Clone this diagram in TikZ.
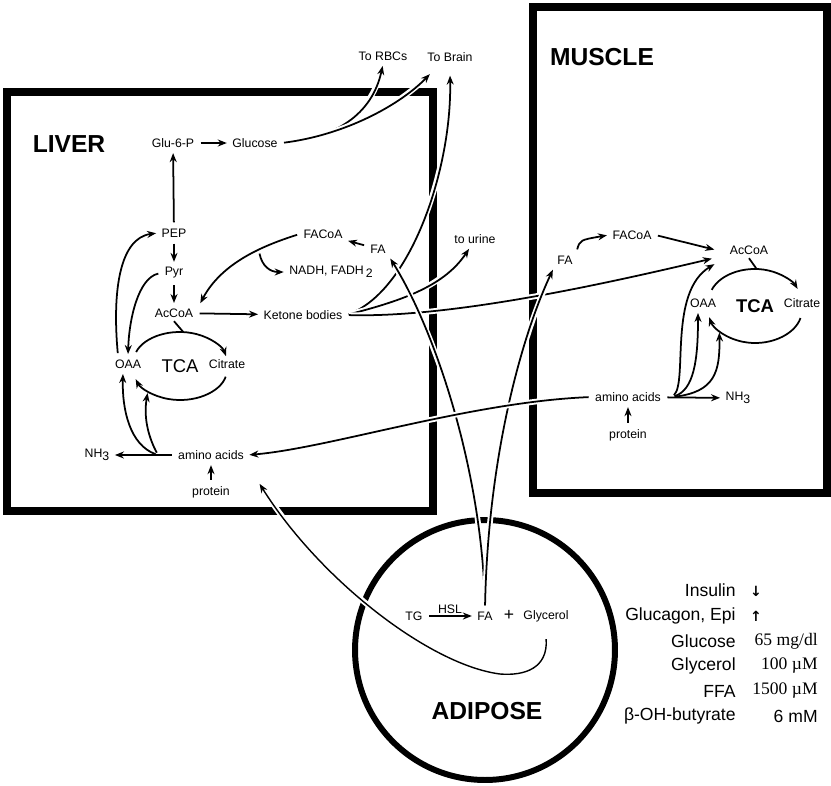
\documentclass[tikz,border=0pt]{standalone}
\usepackage{fontspec}
\setmainfont{Liberation Sans}
\newfontfamily\timesvals{Liberation Serif}
\newfontfamily\legendsym{DejaVu Sans}
\usepackage{tikz}
\usetikzlibrary{
    arrows.meta,
    positioning
}
\tikzset{
    % Heavy black outline of an organ
    organ box/.style={
        draw=black,
        line width=4.5pt,
    },
    % Organ names
    organ name/.style={
        font=\fontsize{14}{16}\selectfont\bfseries,
        inner sep=0pt,
    },
    % Metabolites
    metab/.style={
        font=\fontsize{7}{8}\selectfont,
        inner sep=2pt,
    },
    % Name inside the TCA ring
    cycle name/.style={
        font=\fontsize{10.5}{12}\selectfont,
        inner sep=0pt,
    },
    % Arrow
    arrow/.style={
        -{Stealth[length=1.8mm, width=1.4mm]},
        line width=1pt,
        shorten >=1pt,
        shorten <=1.5pt,
    },
    % Line without tip
    link/.style={
        line width=1pt,
    },
    % Arrow with a white halo where it crosses a frame
    arrow cross/.style={
        arrow,
        preaction={draw=white, line width=3.2pt, -},
    },
    % Legend text
    legend label/.style={
        font=\fontsize{10}{12}\selectfont,
        anchor=east,
        inner sep=0pt,
    },
}

\begin{document}
\begin{tikzpicture}[x=0.02cm, y=-0.02cm, node distance=0.8cm]
    \useasboundingbox (0,0) rectangle (831,785);

    % organs
    \draw[organ box] (7,92) rectangle (433,511);
    \draw[organ box] (533,7) rectangle (827,493);
    \draw[organ box, line width=3.4pt] (485,650) circle[radius=2.6cm];
    \node (liver) [organ name] at (69,144) {LIVER};
    \node (muscle) [organ name] at (602,57) {MUSCLE};
    \node (adipose) [organ name] at (487,711) {ADIPOSE};

    % liver
    \node (glu6p) [metab] at (173,143) {Glu-6-P};
    \node (glucose) [metab, right of=glu6p, xshift=0.84cm] {Glucose};
    \node (pep) [metab] at (174,233) {PEP};
    \node (pyr) [metab, below of=pep] {Pyr};
    \node (accoaL) [metab, below of=pyr] {AcCoA};
    \node (facoaL) [metab] at (323,234) {FACoA};
    \node (faL) [metab] at (378,249) {FA};
    \node (nadh) [metab] at (331,272) {NADH, FADH\,\raisebox{-.5ex}{2}};
    \node (ketone) [metab] at (303,315) {Ketone bodies};
    \node (tcaL) [cycle name] at (180,366) {TCA};
    \node (oaaL) [metab] at (128,364) {OAA};
    \node (citL) [metab] at (227,364) {Citrate};
    \node (aminoL) [metab] at (211,455) {amino acids};
    \node (protL) [metab, below of=aminoL, yshift=0.06cm] {protein};
    \node (nh3L) [metab] at (97,455) {NH\raisebox{-.5ex}{3}};

    % outside
    \node (rbc) [metab] at (383,56) {To RBCs};
    \node (brain) [metab] at (450,57) {To Brain};
    \node (urine) [metab] at (475,239) {to urine};

    % muscle
    \node (faM) [metab] at (565,260) {FA};
    \node (facoaM) [metab] at (632,235) {FACoA};
    \node (accoaM) [metab] at (749,250) {AcCoA};
    \node (tcaM) [cycle name, font=\fontsize{10.5}{12}\selectfont\bfseries] at (755,306) {TCA};
    \node (oaaM) [metab] at (703,303) {OAA};
    \node (citM) [metab] at (802,303) {Citrate};
    \node (aminoM) [metab] at (628,397) {amino acids};
    \node (protM) [metab, below of=aminoM, yshift=0.04cm] {protein};
    \node (nh3M) [metab] at (738,398) {NH\raisebox{-.5ex}{3}};

    % adipose
    \node (tg) [metab] at (414,616) {TG};
    \node (faA) [metab] at (485,616) {FA};
    \node (plus) [font=\fontsize{10}{12}\selectfont] at (509,615) {+};
    \node (glycerol) [metab] at (546,616) {Glycerol};

    % legend
    \node (insulin) [legend label] at (736,590) {Insulin};
    \node (glucagon) [legend label] at (736,616) {Glucagon, Epi};
    \node (glcKey) [legend label] at (736,641) {Glucose};
    \node (glyKey) [legend label] at (736,666) {Glycerol};
    \node (ffaKey) [legend label] at (736,691) {FFA};
    \node (bohbKey) [legend label] at (736,716) {β-OH-butyrate};
    \node (insulinVal) [font=\legendsym\fontsize{8}{9}\selectfont\bfseries] at (756,591) {↓};
    \node (glucagonVal) [font=\legendsym\fontsize{8}{9}\selectfont\bfseries] at (756,616) {↑};
    \node (glcVal) [legend label, font=\timesvals\fontsize{10}{12}\selectfont] at (818,641) {65 mg/dl};
    \node (glyVal) [legend label, font=\timesvals\fontsize{10}{12}\selectfont] at (818,666) {100 µM};
    \node (ffaVal) [legend label, font=\timesvals\fontsize{10}{12}\selectfont] at (818,691) {1500 µM};
    \node (bohbVal) [legend label] at (818,716) {6 mM};

    \coordinate (redox) at (259,251);
    \coordinate (aaL) at (158,455);
    \coordinate (aaM) at (672,397);

    % liver pathways
    \draw[arrow] (glu6p) -- (glucose);
    \draw[arrow] (pep) -- (glu6p);
    \draw[arrow] (pep) -- (pyr);
    \draw[arrow] (pyr) -- (accoaL);
    \draw[arrow] (accoaL) -- (ketone);
    \draw[arrow] (faL) -- (facoaL);
    \draw[arrow] (protL) -- (aminoL);
    \draw[arrow] (aminoL) -- (nh3L);
    \draw[arrow] (facoaL.west) .. controls (265,245) and (222,262) .. ([xshift=0.05cm]accoaL.north east);
    \draw[arrow] (redox) .. controls (262,266) and (270,272) .. (nadh.west);
    \draw[arrow] ([xshift=-0.2cm]oaaL.north) .. controls (112,290) and (120,238) .. (pep.west);
    \draw[arrow] (pyr.west) .. controls (138,278) and (129,320) .. (oaaL.north);
    \draw[arrow] (aaL) .. controls (130,445) and (122,410) .. ([xshift=-0.1cm]oaaL.south);
    \draw[arrow] (aaL) .. controls (150,440) and (143,420) .. ([shift={(228:0.96cm and 0.68cm)}]tcaL.center);
    \draw[link] (accoaL.south) -- ([shift={(86:0.96cm and 0.68cm)}]tcaL.center);
    \draw[arrow] ([shift={(160:0.96cm and 0.68cm)}]tcaL.center) arc[start angle=160, end angle=14, x radius=0.96cm, y radius=0.68cm];
    \draw[arrow] ([shift={(-14:0.96cm and 0.68cm)}]tcaL.center) arc[start angle=-14, end angle=-160, x radius=0.96cm, y radius=0.68cm];

    % muscle pathways
    \draw[arrow] (faM.north east) .. controls (580,240) .. (facoaM.west);
    \draw[arrow] (facoaM.east) -- ([xshift=-0.2cm]accoaM.west);
    \draw[link] (accoaM.south) -- ([shift={(88:0.96cm and 0.74cm)}]tcaM.center);
    \draw[arrow] (protM) -- (aminoM);
    \draw[arrow] (aminoM) -- (nh3M);
    \draw[arrow] (aaM) .. controls (688,382) and (668,292) .. ([xshift=-0.2cm, yshift=-0.1cm]accoaM.south west);
    \draw[arrow] (aaM) .. controls (694,390) and (698,360) .. ([xshift=-0.1cm]oaaM.south);
    \draw[arrow] (aaM) .. controls (715,392) and (720,372) .. ([shift={(222:0.96cm and 0.74cm)}]tcaM.center);
    \draw[arrow] ([shift={(158:0.96cm and 0.74cm)}]tcaM.center) arc[start angle=158, end angle=25, x radius=0.96cm, y radius=0.74cm];
    \draw[arrow] ([shift={(-15:0.96cm and 0.74cm)}]tcaM.center) arc[start angle=-15, end angle=-165, x radius=0.96cm, y radius=0.74cm];

    % adipose
    \draw[arrow] (tg) -- node[metab, above, inner sep=1pt] {HSL} (faA);

    % between organs
    \draw[arrow cross] (glucose.east) .. controls (335,138) and (372,115) .. (rbc.south);
    \draw[arrow cross] (glucose.east) .. controls (345,135) and (400,105) .. ([xshift=0.15cm, yshift=-0.15cm]brain.south west);
    \draw[arrow cross] (ketone.east) .. controls (410,292) and (452,170) .. ([yshift=-0.17cm]brain.south);
    \draw[arrow cross] (ketone.east) .. controls (405,300) and (445,285) .. ([xshift=-0.1cm]urine.south);
    \draw[arrow cross] (ketone.east) .. controls (450,318) and (600,285) .. ([xshift=-0.25cm]accoaM.south west);
    \draw[arrow cross] (faA.north) .. controls (482,470) and (435,330) .. (faL.south east);
    \draw[arrow cross] (faA.north) .. controls (488,460) and (520,340) .. (faM.south west);
    \draw[arrow cross] (aminoM.west) .. controls (470,402) and (330,448) .. (aminoL.east);
    \draw[arrow cross, line width=.8pt] ([yshift=-0.22cm]glycerol.south) .. controls (548,668) and (525,676) .. (500,674)
        .. controls (430,665) and (320,580) .. ([xshift=0.5cm]protL.north east);
\end{tikzpicture}
\end{document}
